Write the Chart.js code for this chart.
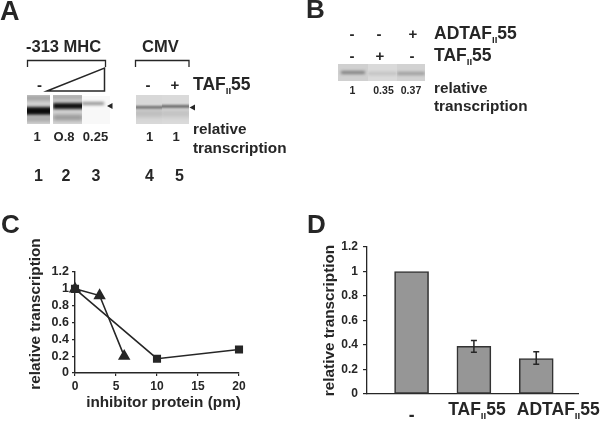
<!DOCTYPE html>
<html><head><meta charset="utf-8">
<script src="https://cdn.jsdelivr.net/npm/chart.js@4"></script>
<style>
html,body{margin:0;padding:0;background:#fff;width:600px;height:422px;overflow:hidden}
#wrap{position:relative;width:600px;height:422px;filter:blur(0.4px)}
canvas{position:absolute;display:block}
</style></head><body>
<div id="wrap">
<canvas id="bg" width="600" height="422" style="left:0;top:0;width:600px;height:422px"></canvas>
<div style="position:absolute;left:0;top:210px;width:300px;height:212px"><canvas id="c" width="300" height="212"></canvas></div>
<div style="position:absolute;left:300px;top:210px;width:300px;height:212px"><canvas id="d" width="300" height="212"></canvas></div>
</div>
<script>
const FONT='"Liberation Sans", Arial, sans-serif', INK='#262626';
// Panel C
const squareX=[0,10,20], squareY=[1,0.17,0.28];
const triangleX=[0,3,6], triangleY=[1,0.92,0.2];
const yTicks=[0,0.2,0.4,0.6,0.8,1,1.2];
const titleCX='inhibitor protein (pm)', titleY='relative transcription';
// Panel D
const barLabels=['-','TAF_II55','ADTAF_II55'];
const barValues=[1,0.39,0.29];
const errLow=[null,0.34,0.242];
const errHigh=[null,0.437,0.345];
// Panels A and B: labels
const laneNumbers=['1','2','3','4','5'];
const relA=['1','O.8','0.25','1','1'];
const relB=['1','0.35','0.37'];

function taf(ctx,label,x,y,size,align){
  const p=label.split('_II');
  ctx.textBaseline='alphabetic';ctx.textAlign='left';
  const f=`bold ${size}px ${FONT}`,s=`bold ${size*0.55}px ${FONT}`;
  ctx.font=f;const w1=ctx.measureText(p[0]).width;
  const w3=p[1]!==undefined?ctx.measureText(p[1]).width:0;
  ctx.font=s;const w2=p[1]!==undefined?ctx.measureText('II').width:0;
  let x0=x; if(align==='center')x0=x-(w1+w2+w3)/2;
  ctx.font=f;ctx.fillText(p[0],x0,y);
  if(p[1]!==undefined){
    ctx.font=s;ctx.fillText('II',x0+w1,y+size*0.22);
    ctx.font=f;ctx.fillText(p[1],x0+w1+w2,y);
  }
}
function txt(ctx,t,x,y,size,align){
  ctx.font=`bold ${size}px ${FONT}`;ctx.textAlign=align||'left';ctx.textBaseline='alphabetic';ctx.fillText(t,x,y);
}
function band(ctx,x,y,w,h,col,blur){
  ctx.save();ctx.filter=`blur(${blur}px)`;ctx.fillStyle=col;ctx.fillRect(x,y,w,h);ctx.restore();
}
function lane(ctx,x,y,w,h,bg,bands){
  ctx.save();ctx.beginPath();ctx.rect(x,y,w,h);ctx.clip();
  ctx.fillStyle=bg;ctx.fillRect(x,y,w,h);
  bands.forEach(b=>band(ctx,x+b[0],y+b[1],b[2],b[3],b[4],b[5]));
  ctx.restore();
}
(function drawBackground(){
  const ctx=document.getElementById('bg').getContext('2d');
  ctx.fillStyle='#fff';ctx.fillRect(0,0,600,422);
  // gels A
  lane(ctx,27,95,23,29,'#d4d4d4',[[-3,1,30,4,'#909090',2],[-3,12,30,8,'#0c0c0c',1.8],[-3,22,30,4,'#989898',2]]);
  lane(ctx,53,95,29,29,'#d6d6d6',[[-3,0,35,4,'#9c9c9c',2],[0,8,32,6,'#101010',1.8],[0,20,30,5,'#8c8c8c',2]]);
  lane(ctx,82,96,28,28,'#f8f8f8',[[0,6,22,3,'#8c8c8c',1.4]]);
  lane(ctx,136,95,26,29,'#d8d8d8',[[-3,11,32,3,'#6a6a6a',1.2],[-3,15,32,7,'#bdbdbd',2]]);
  lane(ctx,162,95,27,29,'#dadada',[[-3,10,33,3,'#666',1.2],[-3,15,33,7,'#c2c2c2',2]]);
  // gel B
  lane(ctx,338,64,30,17,'#d0d0d0',[[3,7,24,3,'#7a7a7a',1.4]]);
  lane(ctx,368,64,29,17,'#dadada',[[0,8,29,3,'#c0c0c0',1.5]]);
  lane(ctx,397,64,28,17,'#d2d2d2',[[0,8,28,3,'#989898',1.4]]);
  ctx.fillStyle=INK;ctx.strokeStyle=INK;
  txt(ctx,'A',0,20,27);txt(ctx,'B',306,18,26);txt(ctx,'C',1,233,26);txt(ctx,'D',307,233,26);
  txt(ctx,'-313 MHC',26,52,16.5);txt(ctx,'CMV',142,52,16.5);
  ctx.lineWidth=1.3;
  ctx.beginPath();ctx.moveTo(27.5,67);ctx.lineTo(27.5,60.5);ctx.lineTo(105.5,60.5);ctx.lineTo(105.5,67);
  ctx.moveTo(135.5,67);ctx.lineTo(135.5,60.5);ctx.lineTo(189,60.5);ctx.lineTo(189,67);ctx.stroke();
  ctx.lineWidth=1.5;
  ctx.beginPath();ctx.moveTo(47,91);ctx.lineTo(104.5,68);ctx.lineTo(104.5,91);ctx.closePath();ctx.stroke();
  txt(ctx,'-',39.5,90,15,'center');txt(ctx,'-',148,90,15,'center');txt(ctx,'+',175,90,15,'center');
  taf(ctx,'TAF_II55',193,90,17.5);
  ctx.beginPath();ctx.moveTo(107,106);ctx.lineTo(112.5,103);ctx.lineTo(112.5,109);ctx.closePath();ctx.fill();
  ctx.beginPath();ctx.moveTo(189.5,107.5);ctx.lineTo(195,104.5);ctx.lineTo(195,110.5);ctx.closePath();ctx.fill();
  const relX=[37,64,95.5,149.5,176];
  relA.forEach((t,i)=>txt(ctx,t,relX[i],141,13,'center'));
  const numX=[38.5,66,96,149.5,179.5];
  laneNumbers.forEach((t,i)=>txt(ctx,t,numX[i],181,16,'center'));
  txt(ctx,'relative',193,134,15.3);txt(ctx,'transcription',193,153,15.3);
  ['-','-','+'].forEach((t,i)=>txt(ctx,t,[352,379,413][i],39,15,'center'));
  ['-','+','-'].forEach((t,i)=>txt(ctx,t,[352,380,412][i],61,15,'center'));
  taf(ctx,'ADTAF_II55',434,39,17.5);taf(ctx,'TAF_II55',434,61,17.5);
  relB.forEach((t,i)=>txt(ctx,t,[352.5,383.5,411][i],94,10.5,'center'));
  txt(ctx,'relative',434,93,15.3);txt(ctx,'transcription',434,111,15.3);
  // Panel C axis titles, off-centre from the plot as in the figure
  txt(ctx,titleCX,163.5,407,15.3,'center');
  ctx.save();ctx.translate(40,314);ctx.rotate(-Math.PI/2);txt(ctx,titleY,0,0,15.3,'center');ctx.restore();
})();

function fixedAxes(w,h){return {y:s=>{s.width=w},x:s=>{s.height=h}}}
const fmt=v=>String(+(+v).toFixed(1));
const fixC=fixedAxes(75,49);
new Chart(document.getElementById('c'),{
  type:'scatter',
  data:{datasets:[
    {data:squareX.map((x,i)=>({x,y:squareY[i]})),showLine:true,borderColor:INK,backgroundColor:INK,borderWidth:1.6,pointStyle:'rect',pointRadius:4.6,clip:false},
    {data:triangleX.map((x,i)=>({x,y:triangleY[i]})),showLine:true,borderColor:INK,backgroundColor:INK,borderWidth:1.6,pointStyle:'triangle',pointRadius:5.6,clip:false}
  ]},
  options:{responsive:false,animation:false,events:[],
    layout:{padding:{top:62,right:61,bottom:0,left:0}},
    plugins:{legend:{display:false},tooltip:{enabled:false}},
    scales:{
      x:{type:'linear',min:0,max:20,afterFit:fixC.x,
        border:{color:INK,width:1.4},
        grid:{drawOnChartArea:false,color:INK,tickLength:3,lineWidth:1.2},
        ticks:{stepSize:5,maxRotation:0,color:INK,font:{family:FONT,weight:'bold',size:12},padding:3}},
      y:{min:0,max:1.2,afterFit:fixC.y,
        afterBuildTicks:s=>{s.ticks=yTicks.map(v=>({value:v}))},
        border:{color:INK,width:1.4},
        grid:{drawOnChartArea:false,color:INK,tickLength:3,lineWidth:1.2},
        ticks:{color:INK,font:{family:FONT,weight:'bold',size:12.5},padding:3,autoSkip:false,callback:fmt}}
    }}
});

const errorBars={id:'errorBars',afterDatasetsDraw(ch){
  const c=ch.ctx,x=ch.scales.x,y=ch.scales.y;
  c.save();c.strokeStyle=INK;c.lineWidth=1.5;
  barValues.forEach((v,i)=>{
    if(errLow[i]===null)return;
    const px=x.getPixelForValue(i),a=y.getPixelForValue(errLow[i]),b=y.getPixelForValue(errHigh[i]);
    c.beginPath();c.moveTo(px,a);c.lineTo(px,b);
    c.moveTo(px-3,a);c.lineTo(px+3,a);c.moveTo(px-3,b);c.lineTo(px+3,b);c.stroke();
  });
  c.restore();
}};
const catLabels={id:'catLabels',afterDraw(ch){
  const c=ch.ctx,x=ch.scales.x,shift=[0,3,22],base=[211,205,205];
  c.save();c.fillStyle=INK;
  barLabels.forEach((t,i)=>taf(c,t,x.getPixelForValue(i)+shift[i],base[i],17.5,'center'));
  c.restore();
}};
const fixD=fixedAxes(67,28);
new Chart(document.getElementById('d'),{
  type:'bar',
  data:{datasets:[{data:barValues.map((y,x)=>({x,y})),backgroundColor:'#969696',borderColor:'#333',borderWidth:1.6,borderSkipped:false,barThickness:34}]},
  plugins:[errorBars,catLabels],
  options:{responsive:false,animation:false,events:[],
    layout:{padding:{top:37,right:22,bottom:0,left:0}},
    plugins:{legend:{display:false},tooltip:{enabled:false}},
    scales:{
      x:{type:'linear',min:-0.715,max:2.67,afterFit:fixD.x,offset:false,
        border:{color:INK,width:1.3},grid:{display:false},ticks:{display:false}},
      y:{min:0,max:1.2,afterFit:fixD.y,
        afterBuildTicks:s=>{s.ticks=yTicks.map(v=>({value:v}))},
        border:{color:INK,width:1.3},
        grid:{drawOnChartArea:false,color:INK,tickLength:4,lineWidth:1.2},
        ticks:{color:INK,font:{family:FONT,weight:'bold',size:12},padding:5,autoSkip:false,callback:fmt},
        title:{display:true,text:titleY,color:INK,font:{family:FONT,weight:'bold',size:15.3},padding:{top:21,bottom:0}}}
    }}
});
</script>
</body></html>
